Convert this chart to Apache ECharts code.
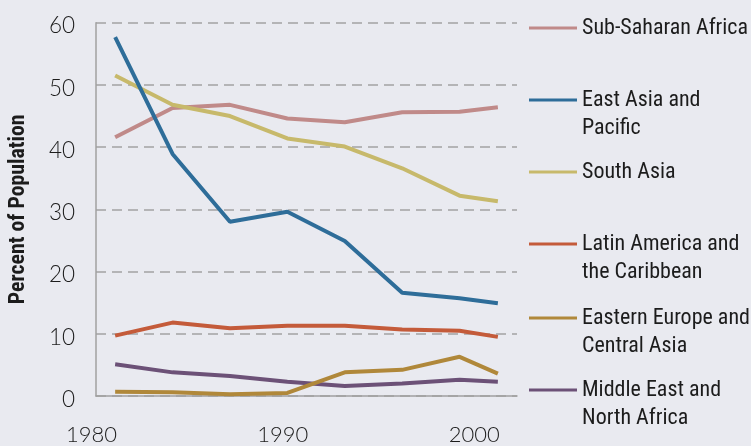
<!DOCTYPE html>
<html>
<head>
<meta charset="utf-8">
<script src="https://cdn.jsdelivr.net/npm/echarts@6/dist/echarts.min.js"></script>
<style>
html,body{margin:0;padding:0;background:#e9eaf0;}
#chart{width:751px;height:446px;}
</style>
</head>
<body>
<div id="chart"></div>
<script>
// Data
var years = [1981, 1984, 1987, 1990, 1993, 1996, 1999, 2001];
var seriesNames = ['Sub-Saharan Africa', 'East Asia and Pacific', 'South Asia', 'Latin America and the Caribbean', 'Eastern Europe and Central Asia', 'Middle East and North Africa'];
var legendLabels = ['Sub-Saharan Africa', 'East Asia and\nPacific', 'South Asia', 'Latin America and\nthe Caribbean', 'Eastern Europe and\nCentral Asia', 'Middle East and\nNorth Africa'];
var subSaharan   = [41.6, 46.3, 46.8, 44.6, 44.0, 45.6, 45.7, 46.4];
var eastAsia     = [57.7, 38.9, 28.0, 29.6, 24.9, 16.6, 15.7, 14.9];
var southAsia    = [51.5, 46.8, 45.0, 41.4, 40.1, 36.6, 32.2, 31.3];
var latinAmerica = [9.7, 11.8, 10.9, 11.3, 11.3, 10.7, 10.5, 9.5];
var easternEurope= [0.7, 0.6, 0.3, 0.5, 3.8, 4.2, 6.3, 3.6];
var middleEast   = [5.1, 3.8, 3.2, 2.3, 1.6, 2.0, 2.6, 2.3];
var yTicks = [0, 10, 20, 30, 40, 50, 60];
var xTicks = [1980, 1990, 2000];

var values = [subSaharan, eastAsia, southAsia, latinAmerica, easternEurope, middleEast];
var colors = ['#c08a89', '#2e6d99', '#c7b96b', '#c45b3a', '#b0883a', '#6c5177'];
var legendIconY = [24.5, 96.5, 168.5, 240.5, 314.5, 386.5];

var condensed = '"Roboto Condensed", Roboto, sans-serif';
var tickFont = 'Lato, "Liberation Sans", sans-serif';
var lineH = 28.5;
var textPad = 7;

function pairs(arr) { return years.map(function (y, i) { return [y, arr[i]]; }); }

var drawOrder = [0, 2, 1, 3, 5, 4];
var series = drawOrder.map(function (k) {
  return {
    name: seriesNames[k],
    type: 'line',
    data: pairs(values[k]),
    symbol: 'none',
    lineStyle: { color: colors[k], width: 4 },
    itemStyle: { color: colors[k] },
    animation: false
  };
});

var legends = seriesNames.map(function (n, k) {
  var twoLine = legendLabels[k].indexOf('\n') >= 0;
  var h = twoLine ? lineH * 3 : lineH;
  return {
    data: [n],
    orient: 'vertical',
    left: 529,
    top: legendIconY[k] - h / 2,
    padding: 0,
    icon: 'rect',
    itemWidth: 48,
    itemHeight: 3,
    selectedMode: false,
    formatter: function () { return twoLine ? '\n' + legendLabels[k] : legendLabels[k]; },
    textStyle: { fontFamily: condensed, fontSize: 22, color: '#1c1c1c', lineHeight: lineH, padding: [textPad, 0, 0, 0] }
  };
});

var chart = echarts.init(document.getElementById('chart'), null, { renderer: 'canvas' });
chart.setOption({
  backgroundColor: '#e9eaf0',
  animation: false,
  grid: { left: 95, right: 234, top: 22.7, bottom: 50, containLabel: false },
  legend: legends,
  xAxis: {
    type: 'value',
    min: 1980,
    max: 2002,
    interval: 10,
    axisLine: { show: true, lineStyle: { color: '#a0a0a0', width: 1.5 } },
    axisTick: { show: false },
    splitLine: { show: false },
    axisLabel: {
      showMaxLabel: false,
      margin: 28,
      color: '#1c1c1c',
      formatter: function (v) { return xTicks.indexOf(v) >= 0 ? '{t|' + v + '}' : ''; },
      rich: {
        t: { fontSize: 22, fontFamily: tickFont, fontWeight: 300, color: '#1c1c1c', padding: [0, 9, 0, 0] }
      }
    }
  },
  yAxis: {
    type: 'value',
    min: 0,
    max: 60,
    interval: 10,
    name: 'Percent of Population',
    nameLocation: 'middle',
    nameGap: 66,
    nameTextStyle: { fontFamily: condensed, fontWeight: 'bold', fontSize: 21.8, color: '#1c1c1c' },
    axisLine: { show: true, lineStyle: { color: '#a0a0a0', width: 1.5 } },
    axisTick: { show: false },
    splitLine: { show: true, lineStyle: { color: '#a3a3a3', width: 1.5, type: [10, 6] } },
    axisLabel: {
      margin: 21,
      fontSize: 22.5,
      fontFamily: tickFont,
      fontWeight: 300,
      color: '#1c1c1c',
      verticalAlign: 'top',
      lineHeight: 7,
      formatter: function (v) { return yTicks.indexOf(v) >= 0 ? String(v) : ''; }
    }
  },
  series: series
});
</script>
</body>
</html>
